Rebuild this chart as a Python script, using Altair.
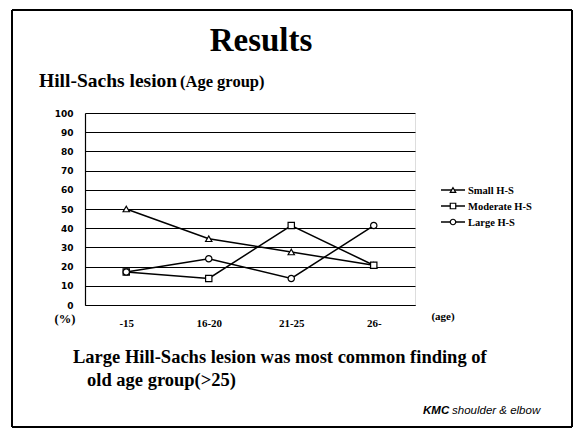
import altair as alt
import pandas as pd

# ---- data ----
age_groups = ["-15", "16-20", "21-25", "26-"]
small_hs = [50.0, 34.5, 27.6, 20.7]
moderate_hs = [17.2, 13.8, 41.4, 20.7]
large_hs = [17.2, 24.1, 13.8, 41.4]
series_names = ["Small H-S", "Moderate H-S", "Large H-S"]
series_shapes = ["triangle-up", "square", "circle"]
y_ticks = [0, 10, 20, 30, 40, 50, 60, 70, 80, 90, 100]

title_text = "Results"
subtitle_main = "Hill-Sachs lesion"
subtitle_paren = "(Age group)"
note_line1 = "Large Hill-Sachs lesion was most common finding of"
note_line2 = "old age group(>25)"
credit_bold = "KMC"
credit_rest = "shoulder & elbow"

rows = []
for name, vals in zip(series_names, [small_hs, moderate_hs, large_hs]):
    for g, v in zip(age_groups, vals):
        rows.append({"age": g, "pct": v, "series": name})
df = pd.DataFrame(rows)

# plot origin on the page
OX, OY = 85, 113
W, H = 330, 192
TOTAL_W, TOTAL_H = 566, 421

x_enc = alt.X("age:N", sort=age_groups,
              scale=alt.Scale(type="point", padding=0.5),
              axis=alt.Axis(title=None, labelAngle=0, labelFont="Liberation Serif",
                            labelFontWeight="bold", labelFontSize=11, labelColor="black",
                            labelPadding=12, ticks=False, domainColor="black",
                            domainWidth=1.2, grid=False))
y_enc = alt.Y("pct:Q", scale=alt.Scale(domain=[0, 100], nice=False, zero=True),
              axis=alt.Axis(title=None, values=y_ticks, labelFont="DejaVu Sans",
                            labelFontWeight="bold", labelFontSize=9, labelColor="black",
                            labelPadding=12, ticks=False, domainColor="black",
                            labelOverlap=False, labelBound=False, labelFlush=False,
                            domainWidth=1.2, grid=True, gridColor="black",
                            gridWidth=1, gridOpacity=1))
shape_enc = alt.Shape("series:N", scale=alt.Scale(domain=series_names, range=series_shapes),
                      legend=None)

base = alt.Chart(df).encode(x=x_enc, y=y_enc)
lines = base.mark_line(color="black", strokeWidth=1.5).encode(detail="series:N")
points = base.mark_point(filled=False, fill="white", fillOpacity=1,
                         stroke="black", strokeWidth=1.2, size=40, opacity=1).encode(
    shape=shape_enc)


def txt(text, x, y, size, font="Liberation Serif", weight="bold", style="normal",
        align="left", baseline="alphabetic"):
    return alt.Chart(pd.DataFrame({"t": [text]})).mark_text(
        font=font, fontSize=size, fontWeight=weight, fontStyle=style, align=align,
        baseline=baseline, color="black").encode(
        text="t:N", x=alt.value(x - OX), y=alt.value(y - OY))


def rule(x1, y1, x2, y2, w=2):
    return alt.Chart(pd.DataFrame({"a": [0]})).mark_rule(color="black", strokeWidth=w).encode(
        x=alt.value(x1 - OX), x2=alt.value(x2 - OX), y=alt.value(y1 - OY), y2=alt.value(y2 - OY))


# slide frame (kept inside the drawable page area)
frame = [
    rule(12, 10, 572, 10),
    rule(12, 427, 572, 427),
    rule(12, 10, 12, 427),
    rule(572, 10, 572, 427),
]

legend_layers = []
leg_y = [190, 206, 222]
for name, shp, ly in zip(series_names, series_shapes, leg_y):
    legend_layers.append(rule(441, ly, 465, ly, 1.5))
    legend_layers.append(
        alt.Chart(pd.DataFrame({"a": [0]})).mark_point(
            shape=shp, filled=False, fill="white", fillOpacity=1, stroke="black",
            strokeWidth=1.2, size=30, opacity=1).encode(
            x=alt.value(453 - OX), y=alt.value(ly - OY)))
    legend_layers.append(txt(name, 468, ly + 4, 10.5))

texts = [
    txt(title_text, 261, 51, 33, align="center"),
    txt(subtitle_main, 39, 87, 19.5),
    txt(subtitle_paren, 180, 87, 16.5),
    txt("(%)", 65, 323, 12.5, align="center"),
    txt("(age)", 443, 320, 11, align="center"),
    txt(note_line1, 73, 363, 18.5),
    txt(note_line2, 87, 386, 18.5),
    txt(credit_bold, 423, 414, 11.5, font="Liberation Sans", weight="bold", style="italic"),
    txt(credit_rest, 452, 414, 11.5, font="Liberation Sans", weight="normal", style="italic"),
]

chart = alt.layer(*frame, lines, points, *legend_layers, *texts).properties(
    width=W, height=H,
    autosize=alt.AutoSizeParams(type="none"),
    padding={"left": OX - 8, "top": OY - 8, "right": TOTAL_W - (OX - 8) - W,
             "bottom": TOTAL_H - (OY - 8) - H},
).configure_view(stroke=None).configure(background="white")

chart.save("out.html", embed_options={"renderer": "svg", "actions": False})
